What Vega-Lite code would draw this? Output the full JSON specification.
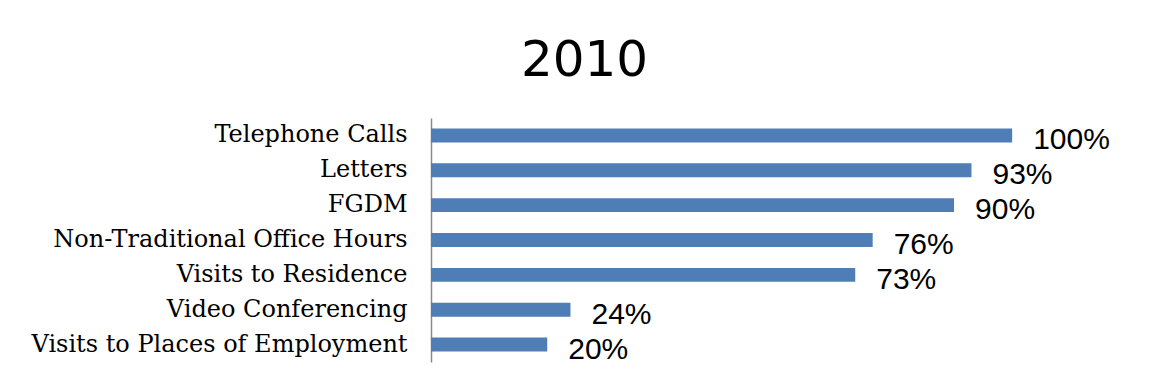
{
  "$schema": "https://vega.github.io/schema/vega-lite/v6.json",
  "autosize": "none",
  "width": 709,
  "height": 244,
  "padding": {"left": 431, "top": 118, "right": 15, "bottom": 24},
  "background": "white",
  "config": {"view": {"stroke": null}},
  "title": {
    "text": "2010",
    "font": "DejaVu Sans",
    "fontSize": 50,
    "fontWeight": "normal",
    "color": "#000000",
    "anchor": "middle",
    "dx": -201,
    "dy": 49,
    "baseline": "alphabetic",
    "offset": 41
  },
  "data": {
    "values": [
      {"method": "Telephone Calls", "pct": 1.00},
      {"method": "Letters", "pct": 0.93},
      {"method": "FGDM", "pct": 0.90},
      {"method": "Non-Traditional Office Hours", "pct": 0.76},
      {"method": "Visits to Residence", "pct": 0.73},
      {"method": "Video Conferencing", "pct": 0.24},
      {"method": "Visits to Places of Employment", "pct": 0.20}
    ]
  },
  "encoding": {
    "y": {
      "field": "method",
      "type": "nominal",
      "sort": null,
      "scale": {"paddingInner": 0.6, "paddingOuter": 0.3},
      "axis": {
        "title": null,
        "ticks": false,
        "domainColor": "#888888",
        "domainWidth": 1.5,
        "labelFont": "DejaVu Serif",
        "labelFontSize": 24,
        "labelColor": "#000000",
        "labelPadding": 24,
        "labelLimit": 500
      }
    },
    "x": {
      "field": "pct",
      "type": "quantitative",
      "scale": {"domain": [0, 1.22], "nice": false},
      "axis": null
    }
  },
  "layer": [
    {"mark": {"type": "bar", "color": "#4F7EB7"}},
    {
      "mark": {
        "type": "text",
        "align": "left",
        "baseline": "alphabetic",
        "dx": 21,
        "dy": 14,
        "font": "Liberation Sans",
        "fontSize": 30,
        "color": "#000000"
      },
      "encoding": {
        "text": {"field": "pct", "type": "quantitative", "format": ".0%"}
      }
    }
  ]
}
